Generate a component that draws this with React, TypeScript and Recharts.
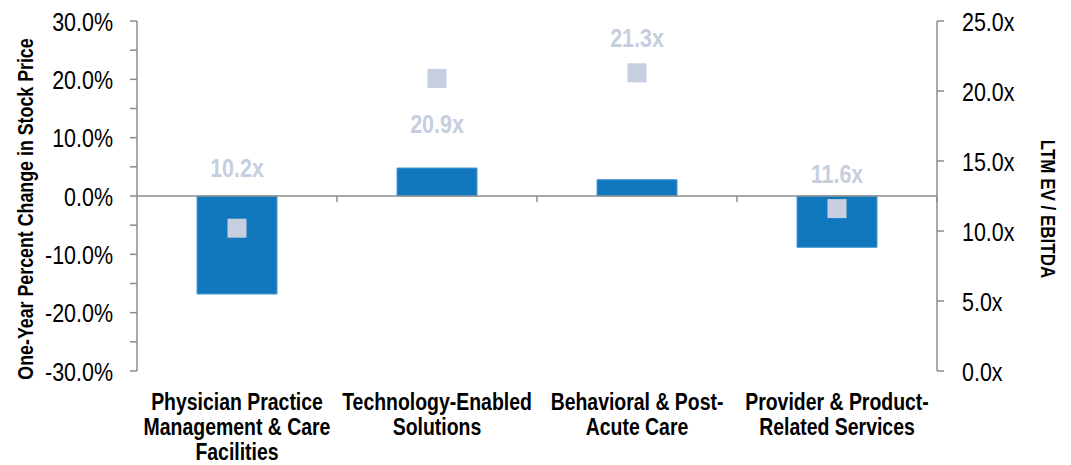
import React from "react";
import {
  Bar,
  ComposedChart,
  ReferenceLine,
  Scatter,
  XAxis,
  YAxis,
} from "recharts";

const categories = [
  "Physician Practice\nManagement & Care\nFacilities",
  "Technology-Enabled\nSolutions",
  "Behavioral & Post-\nAcute Care",
  "Provider & Product-\nRelated Services",
];
const priceChange = [-16.8, 4.8, 2.8, -8.8];
const evEbitda = [10.2, 20.9, 21.3, 11.6];
const pctTicks = [-30, -25, -20, -15, -10, -5, 0, 5, 10, 15, 20, 25, 30];
const multTicks = [0, 5, 10, 15, 20, 25];

// baseline offset of each multiple label from its marker centre (placed by hand in the source)
const labelDy = [-51, 55, -26, -26];

// Arial Narrow look: Liberation Sans squeezed horizontally
const FONT = "'Liberation Sans', Arial, sans-serif";
const SX = 0.81;
const AXIS = "#8c8c8c";
const BAR = "#1278BE";
const MARK = "#C6CEE0";

const data = categories.map((name, i) => ({
  name,
  chg: priceChange[i],
  ev: evEbitda[i],
}));

function Narrow({ x, y, size, anchor = "middle", bold = false, fill = "#000", rotate = 0, children }: any) {
  return (
    <text
      transform={`translate(${x} ${y}) rotate(${rotate}) scale(${SX} 1)`}
      textAnchor={anchor}
      fontFamily={FONT}
      fontWeight={bold ? "bold" : "normal"}
      fontSize={size}
      fill={fill}
    >
      {children}
    </text>
  );
}

function CategoryTick(props: any) {
  const { x, y, payload } = props;
  const lines = String(payload.value).split("\n");
  return (
    <g>
      {lines.map((line, i) => (
        <Narrow key={i} x={x} y={y + 31 + i * 25} size={24} bold>
          {line}
        </Narrow>
      ))}
    </g>
  );
}

function PctTick(props: any) {
  const { x, y, payload } = props;
  const v = payload.value as number;
  if (v % 10 !== 0) return <g />;
  return (
    <Narrow x={x} y={y + 9.5} size={26.5} anchor="end">
      {`${v.toFixed(1)}%`}
    </Narrow>
  );
}

function MultTick(props: any) {
  const { x, y, payload } = props;
  return (
    <Narrow x={x} y={y + 9.5} size={26.5} anchor="start">
      {`${(payload.value as number).toFixed(1)}x`}
    </Narrow>
  );
}

function Marker(props: any) {
  const { cx, cy, index, payload } = props;
  const s = 19;
  return (
    <g>
      <rect x={cx - s / 2} y={cy - s / 2} width={s} height={s} fill={MARK} />
      <Narrow x={cx} y={cy + labelDy[index]} size={26.5} bold fill={MARK}>
        {`${payload.ev.toFixed(1)}x`}
      </Narrow>
    </g>
  );
}

function ZeroLine(props: any) {
  const { x1, y1, x2 } = props;
  const step = (x2 - x1) / categories.length;
  return (
    <g>
      <line x1={x1} y1={y1} x2={x2} y2={y1} stroke={AXIS} strokeWidth={1.5} />
      {categories.map((_, i) => (
        <line
          key={i}
          x1={x1 + step * (i + 1)}
          y1={y1}
          x2={x1 + step * (i + 1)}
          y2={y1 + 6}
          stroke={AXIS}
          strokeWidth={1.5}
        />
      ))}
    </g>
  );
}

export default function App() {
  return (
    <div style={{ position: "absolute", left: 0, top: 0, background: "#fff" }}>
      <ComposedChart
        width={1071}
        height={465}
        data={data}
        margin={{ top: 21, right: 0, bottom: 0, left: 0 }}
        barCategoryGap={0}
      >
        <XAxis
          dataKey="name"
          axisLine={false}
          tickLine={false}
          height={94}
          tick={<CategoryTick />}
          interval={0}
        />
        <YAxis
          yAxisId="left"
          width={137}
          domain={[-30, 30]}
          ticks={pctTicks}
          interval={0}
          tickSize={7}
          tickMargin={17}
          axisLine={{ stroke: AXIS, strokeWidth: 1.5 }}
          tickLine={{ stroke: AXIS, strokeWidth: 1.5 }}
          tick={<PctTick />}
          label={{
            content: (p: any) => {
              const vb = p.viewBox;
              return (
                <Narrow x={33} y={vb.y + vb.height / 2 + 13} size={22} bold rotate={-90}>
                  One-Year Percent Change in Stock Price
                </Narrow>
              );
            },
          }}
        />
        <YAxis
          yAxisId="right"
          orientation="right"
          width={134}
          domain={[0, 25]}
          ticks={multTicks}
          interval={0}
          tickSize={7}
          tickMargin={18}
          axisLine={{ stroke: AXIS, strokeWidth: 1.5 }}
          tickLine={{ stroke: AXIS, strokeWidth: 1.5 }}
          tick={<MultTick />}
          label={{
            content: (p: any) => {
              const vb = p.viewBox;
              return (
                <Narrow x={vb.x + 104} y={vb.y + vb.height / 2 + 13} size={21} bold rotate={90}>
                  LTM EV / EBITDA
                </Narrow>
              );
            },
          }}
        />
        <Bar
          yAxisId="left"
          dataKey="chg"
          barSize={80}
          fill={BAR}
          stroke="#4a98d2"
          strokeWidth={1}
          isAnimationActive={false}
        />
        <ReferenceLine yAxisId="left" y={0} shape={<ZeroLine />} />
        <Scatter
          yAxisId="right"
          dataKey="ev"
          shape={<Marker />}
          isAnimationActive={false}
        />
      </ComposedChart>
    </div>
  );
}
